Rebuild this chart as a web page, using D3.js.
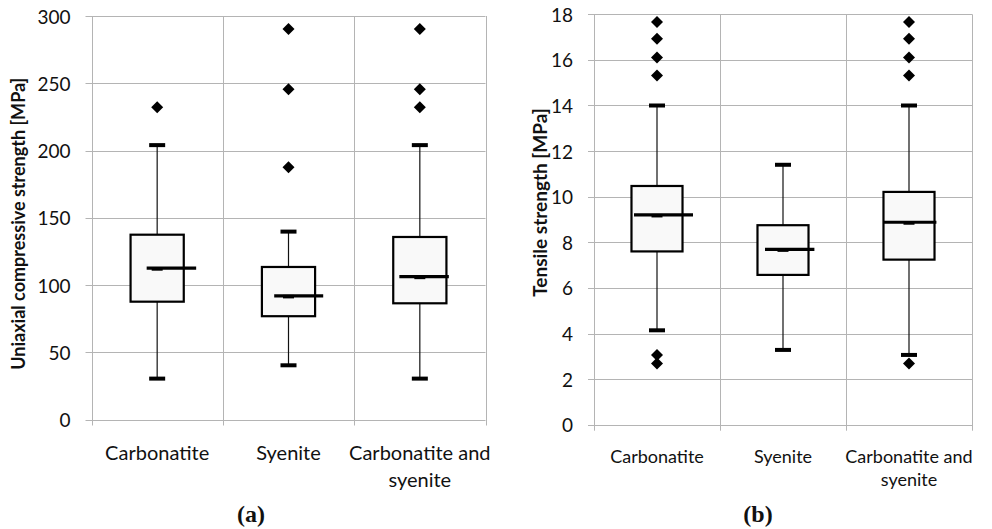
<!DOCTYPE html>
<html>
<head>
<meta charset="utf-8">
<script src="https://cdn.jsdelivr.net/npm/d3@7"></script>
<style>
  html, body { margin: 0; padding: 0; background: #fff; }
  svg { display: block; }
  text { font-family: Lato, "Open Sans", sans-serif; fill: #111; }
</style>
</head>
<body>
<svg id="chart" width="992" height="529"></svg>
<script>
// Rock types
const categories = ["Carbonatite", "Syenite", "Carbonatite and syenite"];

// (a) Uniaxial compressive strength, MPa
const ucsLow      = [30.4, 40.3, 30.4];
const ucsQ1       = [87.6, 76.8, 86.4];
const ucsMedian   = [112.5, 91.9, 106.2];
const ucsQ3       = [137.4, 113.4, 135.7];
const ucsHigh     = [204.0, 139.7, 204.0];
const ucsOutliers = [[232.2], [290.4, 245.6, 187.6], [290.4, 245.6, 232.2]];
const ucsTicks    = [0, 50, 100, 150, 200, 250, 300];

// (b) Tensile strength, MPa
const tsLow      = [4.14, 3.28, 3.06];
const tsQ1       = [7.60, 6.57, 7.24];
const tsMedian   = [9.20, 7.69, 8.88];
const tsQ3       = [10.47, 8.75, 10.21];
const tsHigh     = [14.0, 11.4, 14.0];
const tsOutliers = [[17.66, 16.93, 16.11, 15.32, 3.06, 2.68], [], [17.66, 16.93, 16.11, 15.32, 2.68]];
const tsTicks    = [0, 2, 4, 6, 8, 10, 12, 14, 16, 18];

const svg = d3.select("#chart");

function drawPanel(cfg) {
  const g = svg.append("g");
  const x = d3.scaleBand().domain(categories).range([cfg.left, cfg.right]).paddingInner(0).paddingOuter(0);
  const y = d3.scaleLinear().domain([0, cfg.max]).range([cfg.bottom, cfg.top]);
  const grid = "#b4b4b4";

  // horizontal gridlines + tick marks
  g.append("g").selectAll("line").data(cfg.ticks).join("line")
    .attr("x1", cfg.left - 6).attr("x2", cfg.right)
    .attr("y1", d => Math.round(y(d)) + 0.5).attr("y2", d => Math.round(y(d)) + 0.5)
    .attr("stroke", grid).attr("stroke-width", 1);

  // vertical gridlines at category boundaries
  const bounds = categories.map(c => x(c)).concat([cfg.right]);
  g.append("g").selectAll("line").data(bounds).join("line")
    .attr("x1", d => Math.round(d) + 0.5).attr("x2", d => Math.round(d) + 0.5)
    .attr("y1", cfg.top).attr("y2", cfg.bottom + 6)
    .attr("stroke", grid).attr("stroke-width", 1);

  // y tick labels
  g.append("g").selectAll("text").data(cfg.ticks).join("text")
    .attr("x", cfg.left - 21).attr("y", d => y(d))
    .attr("text-anchor", "end").attr("dominant-baseline", "central")
    .style("font-size", cfg.tickFont + "px")
    .text(d => d);

  // y axis title
  g.append("text")
    .attr("transform", `translate(${cfg.titleX},${(cfg.top + cfg.bottom) / 2 + cfg.titleDy}) rotate(-90)`)
    .attr("text-anchor", "middle")
    .style("font-size", cfg.titleFont + "px").style("font-weight", "bold")
    .text(cfg.title);

  // category labels (wrapped)
  const catLines = { "Carbonatite and syenite": ["Carbonatite and", "syenite"] };
  categories.forEach(c => {
    const lines = catLines[c] || [c];
    const t = g.append("text").attr("text-anchor", "middle")
      .style("font-size", cfg.catFont + "px");
    lines.forEach((l, i) => {
      t.append("tspan").attr("x", x(c) + x.bandwidth() / 2)
        .attr("y", cfg.catY + i * cfg.catLine).text(l);
    });
  });

  // panel caption
  g.append("text").attr("x", cfg.capX).attr("y", 522).attr("text-anchor", "middle")
    .style("font-family", "'Liberation Serif', 'Times New Roman', serif")
    .style("font-weight", "bold").style("font-size", "24px")
    .text(cfg.caption);

  const boxW = x.bandwidth() * 0.405;
  categories.forEach((c, i) => {
    const cx = x(c) + x.bandwidth() / 2;
    const bg = g.append("g");
    // whiskers
    bg.append("line").attr("x1", cx).attr("x2", cx)
      .attr("y1", y(cfg.high[i])).attr("y2", y(cfg.q3[i]))
      .attr("stroke", "#111").attr("stroke-width", 1.2);
    bg.append("line").attr("x1", cx).attr("x2", cx)
      .attr("y1", y(cfg.q1[i])).attr("y2", y(cfg.low[i]))
      .attr("stroke", "#111").attr("stroke-width", 1.2);
    // box
    bg.append("rect").attr("x", cx - boxW / 2).attr("y", y(cfg.q3[i]))
      .attr("width", boxW).attr("height", y(cfg.q1[i]) - y(cfg.q3[i]))
      .attr("fill", "#f9f9f9").attr("stroke", "#000").attr("stroke-width", 2.2);
    // whisker caps
    [cfg.low[i], cfg.high[i]].forEach(v => {
      bg.append("rect").attr("x", cx - 8).attr("y", y(v) - 2)
        .attr("width", 16).attr("height", 4).attr("fill", "#000");
    });
    // median marker and line
    const ym = y(cfg.median[i]);
    bg.append("rect").attr("x", cx - 5.5).attr("y", ym - 1)
      .attr("width", 11).attr("height", 3.5).attr("fill", "#000");
    const span = cfg.medianSpan[i];
    bg.append("line").attr("x1", cx + span[0]).attr("x2", cx + span[1])
      .attr("y1", ym).attr("y2", ym)
      .attr("stroke", "#000").attr("stroke-width", 3.2);
    // outliers
    bg.selectAll("path.out").data(cfg.outliers[i]).join("path")
      .attr("class", "out")
      .attr("d", v => {
        const yy = y(v), r = 6;
        return `M${cx},${yy - r}L${cx + r},${yy}L${cx},${yy + r}L${cx - r},${yy}Z`;
      })
      .attr("fill", "#000");
  });
}

drawPanel({
  left: 91.5, right: 485.5, top: 16, bottom: 419.5, max: 300,
  ticks: ucsTicks, low: ucsLow, q1: ucsQ1, median: ucsMedian, q3: ucsQ3,
  high: ucsHigh, outliers: ucsOutliers,
  medianSpan: [[-10.5, 39], [-14.3, 34.7], [-20.5, 29]],
  title: "Uniaxial compressive strength [MPa]", titleX: 25, titleDy: 6, titleFont: 18,
  tickFont: 19, catFont: 20, catY: 460, catLine: 26.5,
  caption: "(a)", capX: 251
});

drawPanel({
  left: 594, right: 972, top: 14.3, bottom: 424.7, max: 18,
  ticks: tsTicks, low: tsLow, q1: tsQ1, median: tsMedian, q3: tsQ3,
  high: tsHigh, outliers: tsOutliers,
  medianSpan: [[-23, 36], [-18, 31.4], [-26, 27.4]],
  title: "Tensile strength [MPa]", titleX: 547, titleDy: -17, titleFont: 19,
  tickFont: 19, catFont: 18, catY: 463, catLine: 22.5,
  caption: "(b)", capX: 758
});
</script>
</body>
</html>
